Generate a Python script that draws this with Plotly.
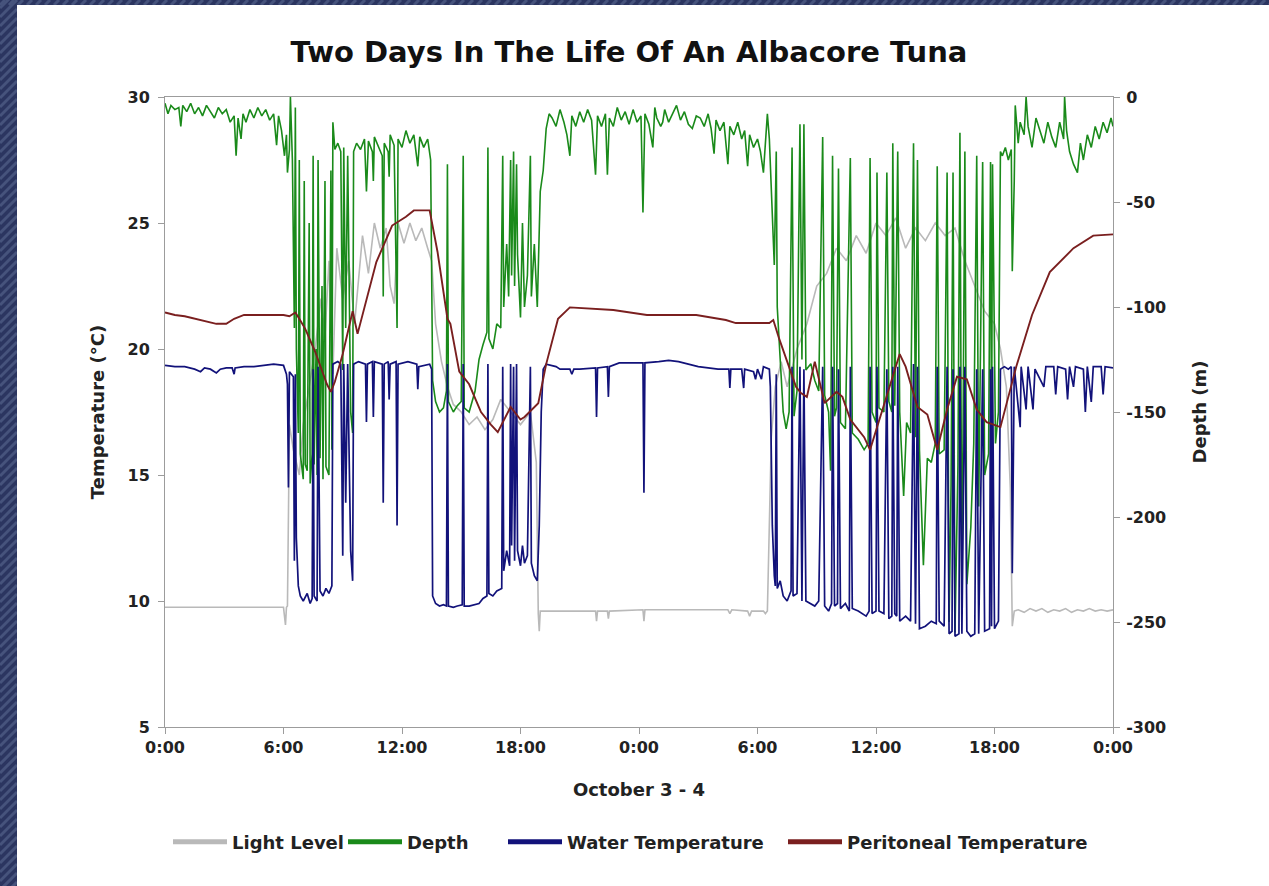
import plotly.graph_objects as go

# ---------------- data (hours since Oct 3 0:00) ----------------
x_tick_hours = [0, 6, 12, 18, 24, 30, 36, 42, 48]
x_tick_labels = ["0:00", "6:00", "12:00", "18:00", "0:00", "6:00", "12:00", "18:00", "0:00"]
depth_ticks = [-300, -250, -200, -150, -100, -50, 0]
depth_tick_labels = ["-300", "-250", "-200", "-150", "-100", "-50", "0"]

light_level = [
    (0.0, 9.75), (2.0, 9.75), (4.0, 9.75), (6.0, 9.75), (6.1, 9.05), (6.15, 9.75), (6.2, 9.8),
    (6.25, 14.0), (6.3, 17.0), (6.5, 16.0), (6.8, 15.0), (7.0, 17.0), (7.3, 18.5), (7.6, 20.0),
    (7.9, 22.0), (8.1, 20.5), (8.3, 23.5), (8.5, 19.0), (8.7, 24.0), (9.0, 22.0), (9.3, 23.5),
    (9.6, 21.0), (10.0, 24.5), (10.3, 23.0), (10.6, 25.0), (10.9, 24.0), (11.2, 24.8), (11.4, 22.5),
    (11.6, 21.8), (11.8, 25.0), (12.1, 24.2), (12.4, 25.0), (12.7, 24.3), (13.0, 24.8), (13.3, 24.0),
    (13.5, 23.5), (13.7, 21.0), (14.0, 19.5), (14.3, 18.5), (14.6, 17.8), (15.0, 17.5), (15.4, 17.0),
    (15.8, 17.3), (16.2, 16.8), (16.6, 17.2), (17.0, 18.0), (17.5, 17.5), (18.0, 17.0), (18.5, 17.5),
    (18.8, 15.5), (18.9, 9.5), (18.95, 8.8), (19.0, 9.6), (19.3, 9.6), (21.8, 9.6), (21.85, 9.2),
    (21.9, 9.6), (22.4, 9.6), (22.45, 9.3), (22.5, 9.6), (24.2, 9.65), (24.25, 9.2), (24.3, 9.65),
    (28.5, 9.65), (28.6, 9.5), (28.7, 9.65), (29.5, 9.6), (29.6, 9.4), (29.7, 9.6), (30.3, 9.6),
    (30.4, 9.5), (30.5, 9.6), (30.6, 13.0), (30.7, 16.5), (30.9, 18.5), (31.2, 19.5), (31.5, 18.5),
    (32.0, 20.0), (32.5, 21.0), (33.0, 22.5), (33.5, 23.0), (34.0, 24.0), (34.5, 23.5), (35.0, 24.5),
    (35.5, 23.8), (36.0, 25.0), (36.5, 24.5), (37.0, 25.2), (37.5, 24.0), (38.0, 24.8), (38.5, 24.3),
    (39.0, 25.0), (39.5, 24.5), (40.0, 24.8), (40.5, 23.5), (41.0, 22.5), (41.5, 21.5), (42.0, 21.0),
    (42.3, 20.0), (42.6, 18.5), (42.8, 14.5), (42.9, 9.0), (43.0, 9.6), (43.2, 9.65), (43.5, 9.55),
    (43.8, 9.7), (44.1, 9.6), (44.4, 9.7), (44.7, 9.55), (45.0, 9.65), (45.3, 9.6), (45.6, 9.7),
    (45.9, 9.55), (46.2, 9.65), (46.5, 9.6), (46.8, 9.7), (47.1, 9.6), (47.4, 9.65), (47.7, 9.6),
    (48.0, 9.65),
]

depth = [
    (0.0, -3), (0.15, -8), (0.3, -4), (0.5, -6), (0.7, -5), (0.8, -14), (0.9, -4), (1.1, -7),
    (1.3, -3), (1.5, -8), (1.7, -5), (1.9, -9), (2.1, -4), (2.3, -7), (2.5, -10), (2.7, -5),
    (2.9, -8), (3.1, -6), (3.3, -12), (3.5, -9), (3.6, -28), (3.7, -10), (3.85, -20), (3.95, -8),
    (4.1, -12), (4.3, -6), (4.5, -10), (4.7, -5), (4.9, -9), (5.1, -6), (5.3, -11), (5.5, -8),
    (5.65, -23), (5.75, -9), (5.9, -16), (6.05, -28), (6.15, -18), (6.2, -36), (6.3, -25),
    (6.35, 0), (6.45, -30),
    (6.55, -110), (6.6, -5), (6.65, -120), (6.75, -160), (6.8, -30), (6.85, -170), (7.0, -182),
    (7.05, -40), (7.1, -175), (7.2, -178), (7.3, -60), (7.35, -184), (7.45, -170), (7.5, -28),
    (7.55, -175), (7.65, -120), (7.7, -180), (7.75, -30), (7.85, -172), (7.95, -90), (8.0, -182),
    (8.1, -40), (8.15, -176), (8.3, -180), (8.4, -35), (8.45, -168), (8.5, -12), (8.6, -25),
    (8.75, -22), (8.9, -26), (9.0, -130), (9.05, -24), (9.15, -110), (9.25, -28), (9.4, -150),
    (9.5, -160), (9.55, -26), (9.7, -22),
    (9.9, -25), (10.1, -20), (10.2, -45), (10.3, -21), (10.5, -26), (10.55, -40), (10.6, -19),
    (10.8, -24), (11.0, -28), (11.05, -95), (11.1, -22), (11.3, -26), (11.35, -38), (11.4, -18),
    (11.6, -23), (11.75, -110), (11.8, -20), (12.0, -24), (12.2, -16), (12.4, -22), (12.6, -18),
    (12.8, -33), (12.9, -19), (13.1, -24), (13.3, -20), (13.45, -30),
    (13.55, -135), (13.7, -145), (13.9, -150), (14.1, -148), (14.25, -140), (14.3, -32),
    (14.35, -145), (14.6, -150), (14.8, -147), (15.0, -145), (15.1, -28), (15.15, -148),
    (15.4, -150), (15.7, -140), (15.9, -125), (16.1, -118), (16.3, -112), (16.35, -24),
    (16.4, -115), (16.6, -120), (16.8, -108), (17.0, -110), (17.1, -28), (17.15, -100),
    (17.3, -70), (17.4, -95), (17.5, -30), (17.55, -85), (17.65, -26), (17.7, -90), (17.8, -32),
    (17.85, -75), (18.0, -105), (18.1, -60), (18.2, -100), (18.35, -85), (18.5, -28),
    (18.55, -95), (18.7, -70), (18.85, -100), (19.0, -45), (19.15, -35), (19.3, -15), (19.45, -8),
    (19.6, -10), (19.8, -14), (20.0, -6), (20.2, -12), (20.35, -18), (20.5, -28), (20.6, -9),
    (20.8, -14), (21.0, -7), (21.2, -12), (21.4, -6), (21.6, -11), (21.8, -37), (21.9, -9),
    (22.1, -14), (22.3, -8), (22.4, -37), (22.5, -10), (22.7, -14), (22.9, -5), (23.1, -11),
    (23.3, -7), (23.5, -13), (23.7, -6), (23.9, -12), (24.1, -9), (24.2, -55), (24.3, -8),
    (24.5, -13), (24.7, -24), (24.8, -5), (24.9, -10), (25.1, -14), (25.2, -12), (25.3, -6),
    (25.5, -12), (25.7, -8), (25.9, -4), (26.1, -11), (26.3, -7), (26.5, -13), (26.7, -15),
    (26.9, -9), (27.1, -10), (27.3, -14), (27.5, -8), (27.65, -15), (27.8, -27), (27.9, -11),
    (28.1, -16), (28.3, -12), (28.5, -32), (28.6, -14), (28.8, -18), (29.0, -12), (29.2, -20),
    (29.35, -16), (29.5, -33), (29.6, -18), (29.8, -24), (30.0, -20), (30.15, -26), (30.3, -36),
    (30.4, -22), (30.5, -8), (30.6, -20),
    (30.7, -45), (30.85, -80), (30.95, -26), (31.0, -100), (31.15, -125), (31.3, -150),
    (31.45, -158), (31.6, -150), (31.75, -24), (31.85, -152), (32.0, -140), (32.15, -13),
    (32.25, -125), (32.35, -13), (32.45, -130), (32.7, -127), (32.9, -135), (33.1, -140),
    (33.3, -19), (33.4, -142), (33.6, -150), (33.7, -178), (33.8, -28), (33.9, -152), (34.0, -148),
    (34.1, -34), (34.2, -155), (34.45, -158), (34.7, -29), (34.8, -160), (35.1, -163),
    (35.4, -168), (35.6, -165), (35.7, -29), (35.8, -150), (36.0, -155), (36.05, -36),
    (36.15, -148), (36.4, -150), (36.55, -36), (36.65, -145), (36.8, -150), (36.85, -22),
    (36.95, -147), (37.1, -26), (37.2, -150), (37.4, -190), (37.55, -155), (37.75, -160),
    (37.9, -22), (38.0, -162), (38.1, -30), (38.2, -168), (38.4, -223), (38.6, -172),
    (38.8, -174), (39.0, -165), (39.1, -33), (39.2, -170), (39.45, -168), (39.6, -36),
    (39.7, -250), (39.8, -185), (39.9, -36), (40.0, -255), (40.15, -175), (40.25, -17),
    (40.35, -242), (40.5, -26), (40.6, -232), (40.8, -205), (40.95, -165), (41.1, -28),
    (41.2, -195), (41.4, -31), (41.5, -180), (41.7, -170), (41.8, -31), (41.85, -175),
    (41.9, -32), (42.05, -165), (42.2, -150), (42.3, -26), (42.4, -28), (42.55, -24),
    (42.7, -30), (42.85, -25), (42.9, -83), (43.0, -40), (43.05, -4), (43.2, -22), (43.3, -12),
    (43.5, -18), (43.6, 0), (43.7, -14), (43.9, -24), (44.1, -10), (44.3, -16), (44.5, -22),
    (44.7, -12), (44.9, -19), (45.1, -24), (45.3, -12), (45.5, -20), (45.55, 0), (45.65, -16),
    (45.8, -26), (46.0, -32), (46.2, -36), (46.35, -22), (46.5, -30), (46.7, -18), (46.9, -24),
    (47.1, -14), (47.3, -20), (47.5, -12), (47.7, -17), (47.9, -10), (48.0, -14),
]

water_temperature = [
    (0.0, 19.35), (0.5, 19.3), (1.0, 19.3), (1.5, 19.2), (1.8, 19.1), (2.0, 19.25), (2.3, 19.2),
    (2.6, 19.05), (2.8, 19.2), (3.1, 19.25), (3.4, 19.25), (3.5, 19.0), (3.55, 19.25), (4.0, 19.3),
    (4.5, 19.3), (5.0, 19.35), (5.5, 19.4), (6.0, 19.35), (6.15, 19.0), (6.2, 18.6), (6.25, 14.5),
    (6.3, 19.1), (6.5, 18.9), (6.55, 11.6), (6.6, 19.0), (6.65, 12.5), (6.75, 10.6), (6.85, 10.2),
    (7.0, 10.0), (7.2, 10.3), (7.35, 9.9), (7.45, 10.1), (7.5, 19.2), (7.55, 10.2), (7.7, 10.0),
    (7.75, 19.3), (7.85, 10.4), (8.0, 10.2), (8.15, 10.5), (8.3, 10.3), (8.45, 10.6), (8.5, 19.4),
    (8.75, 19.5), (8.9, 19.4), (9.0, 11.8), (9.05, 19.4), (9.15, 13.9), (9.25, 19.4), (9.4, 12.0),
    (9.5, 10.8), (9.55, 19.4), (9.8, 19.5), (10.15, 19.4), (10.2, 17.1), (10.25, 19.4),
    (10.5, 19.5), (10.55, 17.3), (10.6, 19.5), (11.0, 19.4), (11.05, 13.9), (11.1, 19.4),
    (11.3, 19.5), (11.35, 18.0), (11.4, 19.4), (11.7, 19.5), (11.75, 13.0), (11.8, 19.4),
    (12.3, 19.5), (12.75, 19.4), (12.8, 18.4), (12.85, 19.3), (13.4, 19.4), (13.5, 19.2),
    (13.55, 10.2), (13.7, 9.9), (13.9, 9.8), (14.1, 9.85), (14.25, 9.8), (14.3, 19.4),
    (14.35, 9.8), (14.6, 9.75), (14.8, 9.8), (15.05, 9.85), (15.1, 19.4), (15.15, 9.8),
    (15.4, 9.8), (15.7, 9.85), (15.9, 9.9), (16.1, 10.1), (16.3, 10.2), (16.35, 19.4),
    (16.4, 10.3), (16.6, 10.2), (16.8, 10.4), (17.05, 10.5), (17.1, 19.3), (17.15, 11.2),
    (17.3, 12.0), (17.45, 11.4), (17.5, 19.4), (17.55, 12.2), (17.65, 19.3), (17.7, 11.6),
    (17.8, 19.4), (17.85, 12.0), (18.0, 11.4), (18.1, 12.2), (18.2, 11.5), (18.35, 11.8),
    (18.5, 19.3), (18.55, 11.5), (18.7, 11.0), (18.85, 10.8), (18.95, 13.0), (19.05, 17.5),
    (19.15, 19.2), (19.3, 19.4),
    (19.8, 19.3), (20.0, 19.2), (20.5, 19.2), (20.6, 19.0), (20.7, 19.2), (21.0, 19.2),
    (21.5, 19.25), (21.8, 19.25), (21.85, 17.3), (21.9, 19.25), (22.4, 19.3), (22.45, 18.1),
    (22.5, 19.3), (23.0, 19.45), (23.5, 19.45), (24.2, 19.45), (24.25, 14.3), (24.3, 19.45),
    (25.0, 19.5), (25.5, 19.55), (26.0, 19.5), (26.5, 19.4), (27.0, 19.3), (27.5, 19.25),
    (28.0, 19.2), (28.55, 19.2), (28.6, 18.45), (28.65, 19.2), (29.2, 19.2), (29.3, 18.45),
    (29.35, 19.2), (29.8, 19.1), (29.9, 18.8), (30.0, 19.2), (30.2, 18.8), (30.3, 19.3),
    (30.6, 19.2), (30.65, 18.5), (30.75, 13.0), (30.85, 11.0), (30.9, 10.6), (30.95, 19.0),
    (31.0, 10.5), (31.15, 10.8), (31.3, 10.2), (31.5, 10.0), (31.7, 10.4), (31.75, 19.3),
    (31.8, 10.2), (32.0, 10.3), (32.15, 19.3), (32.25, 10.0), (32.35, 19.2), (32.45, 10.0),
    (32.7, 9.9), (32.9, 9.8), (33.1, 10.0), (33.3, 19.3), (33.4, 9.8), (33.6, 9.6), (33.75, 9.9),
    (33.8, 19.3), (33.9, 9.8), (34.05, 9.9), (34.1, 19.2), (34.2, 9.7), (34.45, 9.9),
    (34.65, 9.6), (34.7, 19.3), (34.8, 9.7), (35.1, 9.6), (35.3, 9.5), (35.5, 9.4), (35.65, 9.6),
    (35.7, 19.3), (35.8, 9.5), (36.0, 9.6), (36.05, 19.3), (36.15, 9.6), (36.4, 9.5),
    (36.55, 19.2), (36.65, 9.3), (36.8, 9.4), (36.85, 19.3), (36.95, 9.5), (37.05, 9.4),
    (37.1, 19.3), (37.2, 9.2), (37.5, 9.4), (37.75, 9.2), (37.9, 19.4), (38.0, 9.1), (38.1, 19.3),
    (38.2, 8.9), (38.5, 9.0), (38.8, 9.2), (39.05, 9.1), (39.1, 19.3), (39.2, 9.2), (39.45, 9.0),
    (39.6, 19.3), (39.7, 8.7), (39.85, 8.8), (39.9, 19.2), (40.0, 8.6), (40.2, 8.7),
    (40.25, 19.3), (40.35, 8.7), (40.5, 19.3), (40.6, 8.8), (40.8, 8.6), (41.0, 8.7),
    (41.1, 19.2), (41.2, 8.7), (41.4, 19.2), (41.5, 8.8), (41.75, 8.9), (41.8, 19.2),
    (41.85, 9.0), (41.9, 19.3), (42.0, 8.9), (42.2, 9.2), (42.3, 19.2), (42.5, 19.3),
    (42.7, 19.2), (42.85, 19.3), (42.9, 11.1), (43.0, 19.3), (43.3, 16.9), (43.35, 19.3),
    (43.6, 17.6), (43.7, 19.3), (43.95, 17.6), (44.05, 19.2), (44.5, 18.5), (44.6, 19.3),
    (45.0, 19.3), (45.1, 18.2), (45.2, 19.3), (45.6, 19.2), (45.7, 18.0), (45.8, 19.3),
    (46.0, 18.5), (46.1, 19.3), (46.5, 19.2), (46.6, 17.5), (46.7, 19.3), (46.9, 17.9),
    (47.0, 19.3), (47.4, 19.3), (47.5, 18.2), (47.6, 19.3), (48.0, 19.25),
]

peritoneal_temperature = [
    (0.0, 21.45), (0.5, 21.35), (1.0, 21.3), (1.5, 21.2), (2.0, 21.1), (2.6, 21.0), (3.1, 21.0),
    (3.5, 21.2), (4.0, 21.35), (5.0, 21.35), (6.0, 21.35), (6.3, 21.3), (6.6, 21.45), (6.8, 21.2),
    (7.1, 20.8), (7.6, 19.9), (7.9, 19.25), (8.2, 18.6), (8.4, 18.3), (8.6, 18.7), (9.0, 19.8),
    (9.5, 21.5), (9.75, 20.6), (10.2, 22.0), (10.7, 23.45), (11.5, 24.9), (12.2, 25.25),
    (12.6, 25.5), (13.4, 25.5), (13.8, 23.85), (14.3, 21.2), (14.45, 21.0), (14.9, 19.1),
    (15.4, 18.6), (16.0, 17.5), (16.5, 17.0), (16.85, 16.7), (17.5, 17.7), (18.0, 17.2),
    (18.2, 17.3), (18.9, 17.85), (19.3, 19.4), (19.9, 21.2), (20.5, 21.65), (21.5, 21.6),
    (22.7, 21.55), (24.4, 21.35), (26.9, 21.35), (28.4, 21.15), (28.9, 21.03), (30.6, 21.03),
    (30.8, 21.15), (31.1, 20.4), (31.6, 19.25), (31.95, 18.5), (32.2, 18.25), (32.5, 18.1),
    (32.9, 19.5), (33.4, 17.85), (34.0, 18.3), (34.3, 18.1), (34.7, 17.2), (35.4, 16.5),
    (35.7, 16.0), (36.5, 18.0), (37.2, 19.8), (37.5, 19.3), (38.1, 17.7), (38.6, 17.4),
    (39.1, 16.0), (39.6, 17.6), (40.1, 18.9), (40.6, 18.8), (41.1, 17.6), (41.6, 17.1),
    (42.3, 16.9), (42.7, 18.1), (43.1, 19.3), (43.9, 21.35), (44.8, 23.05), (46.0, 24.0),
    (47.0, 24.5), (48.0, 24.55),
]

series_names = ["Light Level", "Depth", "Water Temperature", "Peritoneal Temperature"]
series_colors = ["#b9b9b9", "#1a8a1a", "#12127a", "#7a1f1f"]

FONT = "DejaVu Sans"


def split(points):
    return [p[0] for p in points], [p[1] for p in points]


fig = go.Figure()

lx, ly = split(light_level)
fig.add_trace(go.Scatter(x=lx, y=ly, mode="lines", name=series_names[0], yaxis="y",
                         line=dict(color=series_colors[0], width=1.6), showlegend=False))
dx, dy = split(depth)
fig.add_trace(go.Scatter(x=dx, y=dy, mode="lines", name=series_names[1], yaxis="y2",
                         line=dict(color=series_colors[1], width=1.6), showlegend=False))
wx, wy = split(water_temperature)
fig.add_trace(go.Scatter(x=wx, y=wy, mode="lines", name=series_names[2], yaxis="y3",
                         line=dict(color=series_colors[2], width=1.7), showlegend=False))
px_, py_ = split(peritoneal_temperature)
fig.add_trace(go.Scatter(x=px_, y=py_, mode="lines", name=series_names[3], yaxis="y3",
                         line=dict(color=series_colors[3], width=1.9), showlegend=False))

# ---------------- geometry helpers ----------------
L, T, W, H = 165, 97, 948, 630


def pxx(v):
    return (v - L) / W


def pxy(v):
    return (T + H - v) / H


# legend entries with thick swatches, one legend box per entry
legend_keys = ["legend", "legend2", "legend3", "legend4"]
legend_left_px = [168, 343, 503, 783]
for nm, col, lk in zip(series_names, series_colors, legend_keys):
    fig.add_trace(go.Scatter(x=[None], y=[None], mode="lines", name=nm, yaxis="y3",
                             line=dict(color=col, width=5), showlegend=True, legend=lk))

legend_font = dict(family=FONT, size=18, color="#222222", weight="bold")
legend_layout = {}
for lk, lpx in zip(legend_keys, legend_left_px):
    legend_layout[lk] = dict(orientation="h", x=pxx(lpx), xanchor="left", y=pxy(842),
                             yanchor="middle", font=legend_font, bgcolor="rgba(0,0,0,0)",
                             itemwidth=54)

shapes = []
# navy frame stripes
for k in range(-5, 110):
    y0 = k * 9
    shapes.append(dict(type="line", xref="paper", yref="paper", x0=pxx(0), y0=pxy(y0 + 17),
                       x1=pxx(17), y1=pxy(y0), line=dict(color="#46537c", width=3), layer="below"))
for k in range(0, 145):
    x0 = k * 9
    shapes.append(dict(type="line", xref="paper", yref="paper", x0=pxx(x0), y0=pxy(5),
                       x1=pxx(x0 + 5), y1=pxy(0), line=dict(color="#46537c", width=3), layer="below"))
shapes.append(dict(type="rect", xref="paper", yref="paper", x0=pxx(17), x1=pxx(1290),
                   y0=pxy(5), y1=pxy(900), fillcolor="white", line=dict(width=0), layer="below"))

axis_col = "#9c9c9c"
tick_font = dict(family=FONT, size=16, color="#222222", weight="bold")
title_font = dict(family=FONT, size=18, color="#222222", weight="bold")

fig.update_layout(
    width=1269, height=886,
    margin=dict(l=L, r=1269 - L - W, t=T, b=886 - T - H),
    paper_bgcolor="#2b3560", plot_bgcolor="white",
    shapes=shapes,
    title=dict(text="<b>Two Days In The Life Of An Albacore Tuna</b>", xref="container",
               x=629 / 1269, xanchor="center", yref="container", y=1 - 52 / 886, yanchor="middle",
               font=dict(family=FONT, size=29, color="#111111")),
    xaxis=dict(range=[0, 48], tickvals=x_tick_hours, ticktext=x_tick_labels, showgrid=False,
               zeroline=False, showline=True, linecolor=axis_col, mirror=True, ticks="outside",
               ticklen=6, tickcolor=axis_col, tickfont=tick_font,
               title=dict(text="October 3 - 4", standoff=27, font=title_font)),
    yaxis=dict(range=[5, 30], dtick=5, side="left", showgrid=False, zeroline=False,
               showline=True, linecolor=axis_col, ticks="outside", ticklen=6, tickcolor=axis_col,
               tickfont=tick_font, ticklabelstandoff=5,
               title=dict(text="Temperature (°C)", standoff=18, font=title_font)),
    yaxis2=dict(range=[-300, 0], tickvals=depth_ticks, ticktext=depth_tick_labels, side="right",
                overlaying="y", showgrid=False, zeroline=False, showline=True, linecolor=axis_col,
                ticks="outside", ticklen=6, tickcolor=axis_col, tickfont=tick_font,
                ticklabelstandoff=3,
                title=dict(text="Depth (m)", standoff=28, font=title_font)),
    yaxis3=dict(range=[5, 30], overlaying="y", visible=False),
    **legend_layout,
)

fig.write_html("out.html", config={"displayModeBar": False},
               post_script="document.body.style.margin='0px';")
